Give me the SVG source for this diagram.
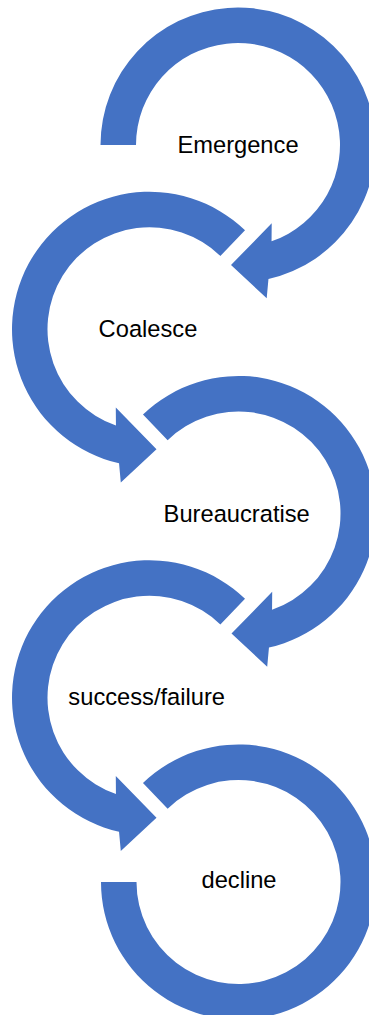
<svg xmlns="http://www.w3.org/2000/svg" width="369" height="1015" viewBox="0 0 369 1015">
<style>
.arrow{fill:#4472C4;stroke:none}
.lbl{font-family:"Liberation Sans",Arial,sans-serif;font-size:23.7px;fill:#000;text-anchor:middle}
</style>
<rect width="369" height="1015" fill="#fff"/>
<g id="connectors"></g>
<g id="node-emergence">
<path class="arrow" d="M 100.5 145 A 137.5 137.5 0 1 1 268.46 279.08 L 266.7 298.3 L 231 265 L 271.7 223.3 L 271.55 241.32 A 102 102 0 1 0 136 145 Z"/>
<text class="lbl" x="238" y="153.3">Emergence</text>
</g>
<g id="node-coalesce">
<path class="arrow" d="M 245.02 230.34 A 137.5 137.5 0 1 0 119.04 463.33 L 120.8 482.55 L 156.5 449.25 L 115.8 407.55 L 115.95 425.57 A 102 102 0 1 1 220.36 255.88 Z"/>
<text class="lbl" x="148" y="336.7">Coalesce</text>
</g>
<g id="node-bureaucratise">
<path class="arrow" d="M 142.98 414.59 A 137.5 137.5 0 1 1 268.96 647.58 L 267.2 666.8 L 231.5 633.5 L 272.2 591.8 L 272.05 609.82 A 102 102 0 1 0 167.64 440.13 Z"/>
<text class="lbl" x="236.7" y="521.7">Bureaucratise</text>
</g>
<g id="node-success-failure">
<path class="arrow" d="M 245.02 598.84 A 137.5 137.5 0 1 0 119.04 831.83 L 120.8 851.05 L 156.5 817.75 L 115.8 776.05 L 115.95 794.07 A 102 102 0 1 1 220.36 624.38 Z"/>
<text class="lbl" x="146.7" y="705">success/failure</text>
</g>
<g id="node-decline">
<path class="arrow" d="M 142.98 783.09 A 137.5 137.5 0 1 1 101 882 L 136.5 882 A 102 102 0 1 0 167.64 808.63 Z"/>
<text class="lbl" x="239" y="888.3">decline</text>
</g>
</svg>
